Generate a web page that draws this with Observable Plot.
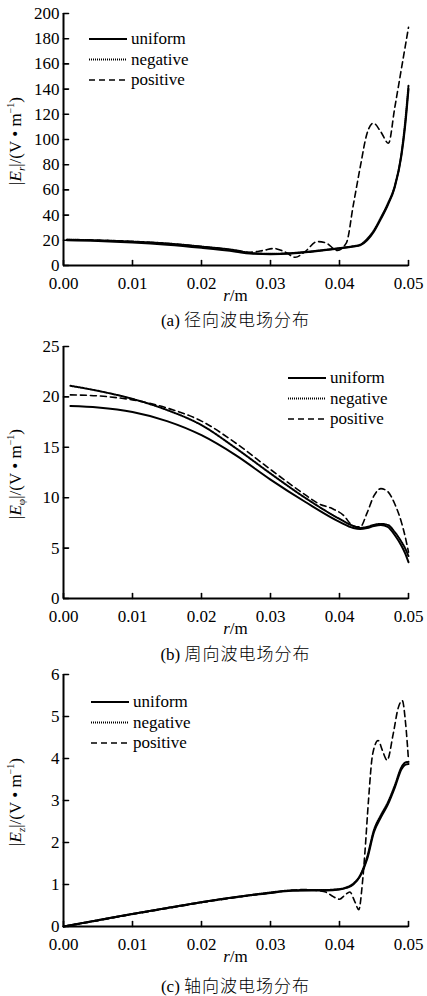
<!DOCTYPE html>
<html><head><meta charset="utf-8">
<script src="https://cdn.jsdelivr.net/npm/d3@7"></script>
<script src="https://cdn.jsdelivr.net/npm/@observablehq/plot@0.6"></script>
<style>
body{margin:0;background:#fff;}
#wrap{position:relative;width:427px;height:996px;overflow:hidden;}
.panel{position:absolute;left:0;}
.panel text{font-family:"Liberation Serif","Tinos","Times New Roman","Times","Nimbus Roman","FreeSerif","Noto Serif","DejaVu Serif",serif;}
.cap{position:absolute;left:63px;width:345px;text-align:center;font-size:17px;font-family:"Liberation Serif","Tinos","Times New Roman","Times","Nimbus Roman","FreeSerif","Noto Serif","DejaVu Serif",serif;line-height:20px;color:#000;}
.cap .zh{font-family:"Noto Sans CJK SC";font-weight:300;letter-spacing:1px;}
</style></head><body><div id="wrap"></div>
<script>
const seriesNames = ["uniform", "negative", "positive"];
const xTicks = [0, 0.01, 0.02, 0.03, 0.04, 0.05];
const xTickLabels = ["0.00", "0.01", "0.02", "0.03", "0.04", "0.05"];

// (a) radial
const yTicksA = [0, 20, 40, 60, 80, 100, 120, 140, 160, 180, 200];
const rA = [0.0005, 0.005, 0.01, 0.015, 0.02, 0.025, 0.027, 0.03, 0.033, 0.036, 0.04, 0.042, 0.043, 0.044, 0.045, 0.046, 0.047, 0.048, 0.049, 0.0495, 0.05];
const aUniform  = [20, 19.5, 18.3, 16.5, 14, 11, 9.5, 9, 9.5, 11, 13.5, 15, 16, 20, 27, 37, 48, 62, 88, 110, 140];
const aNegative = [20.5, 20, 19, 17.5, 15, 12, 10, 9.3, 9.8, 11.3, 13.8, 15.3, 16.5, 21, 28, 38, 49, 63, 90, 113, 143];
const rAp = [0.0005, 0.005, 0.01, 0.015, 0.02, 0.025, 0.027, 0.029, 0.0305, 0.032, 0.0336, 0.035, 0.0368, 0.038, 0.0397, 0.041, 0.042, 0.043, 0.044, 0.0449, 0.046, 0.0471, 0.048, 0.049, 0.05];
const aPositive = [20.5, 20, 19, 17.5, 15, 12, 10.5, 12, 13.5, 11, 6.5, 11, 19, 18, 12, 18, 48, 78, 105, 113, 106, 97, 125, 157, 189];

// (b) azimuthal
const yTicksB = [0, 5, 10, 15, 20, 25];
const rB = [0.001, 0.005, 0.01, 0.015, 0.02, 0.025, 0.03, 0.035, 0.04, 0.042, 0.043, 0.044, 0.045, 0.046, 0.047, 0.048, 0.049, 0.0495, 0.05];
const bUniform  = [19.1, 18.95, 18.5, 17.6, 16.2, 14.2, 11.8, 9.6, 7.6, 7.0, 6.9, 7.0, 7.2, 7.3, 7.1, 6.3, 5.2, 4.5, 3.6];
const bNegative = [21.1, 20.6, 19.8, 18.7, 17.2, 14.9, 12.4, 10.0, 7.9, 7.2, 7.0, 7.1, 7.3, 7.4, 7.3, 6.6, 5.6, 5.0, 4.2];
const rBp = [0.001, 0.005, 0.01, 0.015, 0.02, 0.025, 0.03, 0.035, 0.037, 0.039, 0.0405, 0.042, 0.043, 0.044, 0.045, 0.046, 0.047, 0.048, 0.049, 0.0495, 0.05];
const bPositive = [20.2, 20.1, 19.7, 18.9, 17.6, 15.4, 12.8, 10.3, 9.4, 8.9, 8.3, 7.2, 7.1, 8.5, 10.2, 10.9, 10.6, 9.4, 7.5, 6.2, 4.6];

// (c) axial
const yTicksC = [0, 1, 2, 3, 4, 5, 6];
const rC = [0, 0.005, 0.01, 0.015, 0.02, 0.025, 0.03, 0.033, 0.036, 0.038, 0.04, 0.041, 0.042, 0.043, 0.044, 0.045, 0.046, 0.047, 0.048, 0.049, 0.0495, 0.05];
const cUniform  = [0, 0.15, 0.3, 0.44, 0.58, 0.7, 0.8, 0.85, 0.86, 0.86, 0.88, 0.92, 1.0, 1.2, 1.6, 2.25, 2.6, 2.9, 3.3, 3.75, 3.85, 3.87];
const cNegative = [0, 0.15, 0.3, 0.44, 0.58, 0.7, 0.81, 0.86, 0.87, 0.87, 0.89, 0.93, 1.02, 1.22, 1.65, 2.3, 2.65, 2.95, 3.35, 3.8, 3.9, 3.92];
const rCp = [0, 0.005, 0.01, 0.015, 0.02, 0.025, 0.03, 0.033, 0.035, 0.037, 0.038, 0.039, 0.04, 0.0408, 0.0415, 0.0422, 0.0428, 0.0433, 0.0437, 0.0442, 0.0448, 0.0456, 0.0462, 0.0469, 0.0478, 0.0485, 0.0491, 0.0496, 0.05];
const cPositive = [0, 0.14, 0.29, 0.43, 0.57, 0.69, 0.8, 0.86, 0.88, 0.85, 0.82, 0.72, 0.65, 0.75, 0.82, 0.6, 0.4, 1.0, 1.8, 3.0, 4.1, 4.43, 4.2, 3.96, 4.6, 5.2, 5.38, 4.8, 3.96];

const styles = {
  uniform:  {stroke: "black", strokeWidth: 2},
  negative: {stroke: "black", strokeWidth: 2, strokeDasharray: "1,1"},
  positive: {stroke: "black", strokeWidth: 1.6, strokeDasharray: "6,4"}
};
const SERIF = "'Liberation Serif','Tinos','Times New Roman','DejaVu Serif',serif";

function rows(r, v) { return r.map((x, i) => ({r: x, v: v[i]})); }

const tickShapeUp = {draw(c, l) { c.moveTo(0, 0); c.lineTo(0, -l); }};

function makePanel(cfg) {
  const plot = Plot.plot({
    width: 427, height: cfg.height,
    marginLeft: 63, marginRight: 19, marginTop: 13, marginBottom: cfg.height - 13 - 252,
    x: {domain: [0, 0.05]},
    y: {domain: [0, cfg.yTicks[cfg.yTicks.length - 1]]},
    style: {fontFamily: SERIF, fontSize: "17px", color: "black", background: "transparent", overflow: "visible"},
    marks: [
      Plot.axisX({ticks: xTicks, tickFormat: d => xTickLabels[xTicks.indexOf(d)], tickSize: 0, tickPadding: 11, label: null}),
      Plot.axisY({ticks: cfg.yTicks, tickFormat: d => String(d), tickSize: 0, tickPadding: 4, label: null}),
      Plot.vector(xTicks, {x: d => d, y: 0, length: 5, anchor: "start", shape: tickShapeUp, stroke: "black", strokeWidth: 1.6}),
      Plot.vector(cfg.yTicks, {x: 0, y: d => d, length: 5, rotate: 90, anchor: "start", shape: tickShapeUp, stroke: "black", strokeWidth: 1.6}),
      Plot.ruleY([0], {stroke: "black", strokeWidth: 2}),
      Plot.ruleX([0], {stroke: "black", strokeWidth: 2}),
      Plot.line(rows(cfg.series[0][0], cfg.series[0][1]), {x: "r", y: "v", curve: "monotone-x", ...styles.uniform}),
      Plot.line(rows(cfg.series[1][0], cfg.series[1][1]), {x: "r", y: "v", curve: "monotone-x", ...styles.negative}),
      Plot.line(rows(cfg.series[2][0], cfg.series[2][1]), {x: "r", y: "v", curve: "monotone-x", ...styles.positive})
    ]
  });
  const svg = d3.select(plot);
  // y-axis title
  const t = svg.append("text")
    .attr("transform", `translate(21,${13 + 128}) rotate(-90)`)
    .attr("text-anchor", "middle")
    .attr("font-size", 17).attr("fill", "black");
  t.append("tspan").text("|");
  t.append("tspan").attr("font-style", "italic").text("E");
  t.append("tspan").attr("font-style", cfg.sub === "φ" ? "normal" : "italic").attr("font-size", 11).attr("dy", 4).text(cfg.sub);
  t.append("tspan").attr("dy", -4).text("|/(V • m");
  t.append("tspan").attr("font-size", 10).attr("dy", -7).text("−1");
  t.append("tspan").attr("dy", 7).text(")");
  // x label
  const xl = svg.append("text").attr("x", 235.5).attr("y", 13 + 252 + 36)
    .attr("text-anchor", "middle").attr("font-size", 17).attr("fill", "black");
  xl.append("tspan").attr("font-style", "italic").text("r");
  xl.append("tspan").text("/m");
  // legend
  const lg = svg.append("g").attr("font-size", 17).attr("fill", "black").attr("text-anchor", "start");
  seriesNames.forEach((name, i) => {
    const y = cfg.legY + i * 20.5;
    const s = styles[name];
    lg.append("line").attr("x1", cfg.legX).attr("x2", cfg.legX + 38).attr("y1", y).attr("y2", y)
      .attr("stroke", "black").attr("stroke-width", s.strokeWidth).attr("stroke-dasharray", s.strokeDasharray || null);
    lg.append("text").attr("x", cfg.legX + 42).attr("y", y + 5).attr("text-anchor", "start").text(name);
  });
  plot.classList.add("panel");
  plot.style.top = cfg.top + "px";
  return plot;
}

const wrap = document.getElementById("wrap");
const panels = [
  {top: 0, height: 305, yTicks: yTicksA, sub: "r", legX: 89, legY: 39, series: [[rA, aUniform], [rA, aNegative], [rAp, aPositive]], cap: ["(a) ", "径向波电场分布"], capTop: 309},
  {top: 333, height: 305, yTicks: yTicksB, sub: "φ", legX: 288, legY: 45, series: [[rB, bUniform], [rB, bNegative], [rBp, bPositive]], cap: ["(b) ", "周向波电场分布"], capTop: 643},
  {top: 661, height: 306, yTicks: yTicksC, sub: "z", legX: 91, legY: 41, series: [[rC, cUniform], [rC, cNegative], [rCp, cPositive]], cap: ["(c) ", "轴向波电场分布"], capTop: 975}
];
panels.forEach(cfg => {
  wrap.appendChild(makePanel(cfg));
  const cap = document.createElement("div");
  cap.className = "cap";
  cap.style.top = cfg.capTop + "px";
  cap.innerHTML = `${cfg.cap[0]}<span class="zh">${cfg.cap[1]}</span>`;
  wrap.appendChild(cap);
});
</script>
</body></html>
